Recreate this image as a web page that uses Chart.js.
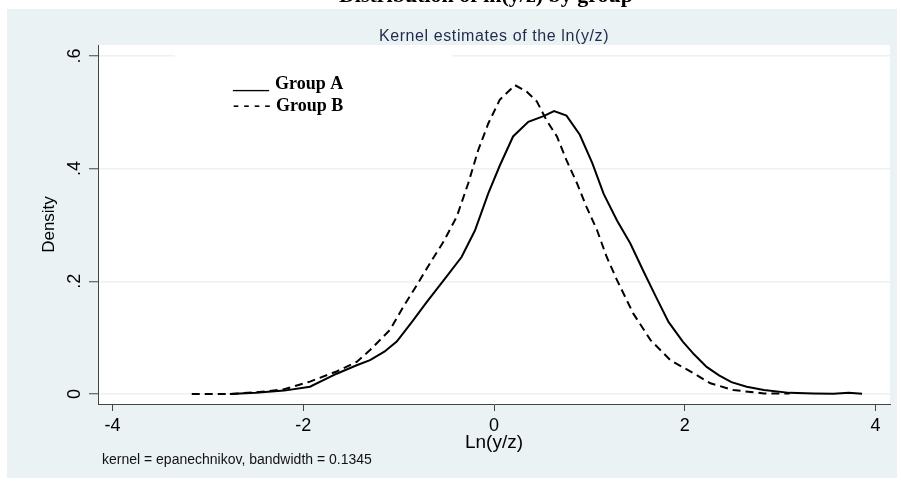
<!DOCTYPE html>
<html>
<head>
<meta charset="utf-8">
<script src="https://cdn.jsdelivr.net/npm/chart.js@4.4.1/dist/chart.umd.min.js"></script>
<style>
  html, body { margin: 0; padding: 0; background: #fff; }
</style>
</head>
<body>
<canvas id="kdens" width="901" height="482"></canvas>
<script>
// axis ticks
const xTicks = [-4, -2, 0, 2, 4];
const yTicks = [0, 0.2, 0.4, 0.6];
const yTickLabels = ["0", ".2", ".4", ".6"];

// Group A (solid line) - kernel density
const groupAx = [-2.77, -2.50, -2.20, -1.93, -1.65, -1.44, -1.30, -1.15, -1.02, -0.86, -0.71, -0.50, -0.34, -0.20, -0.06,
  0.06, 0.20, 0.36, 0.52, 0.63, 0.76, 0.90, 1.03, 1.15, 1.29, 1.43, 1.57, 1.70, 1.83, 1.98, 2.10, 2.23, 2.36, 2.49,
  2.65, 2.83, 3.10, 3.35, 3.56, 3.72, 3.86];
const groupAy = [0.000, 0.002, 0.006, 0.013, 0.036, 0.051, 0.060, 0.075, 0.093, 0.128, 0.162, 0.208, 0.243, 0.290, 0.356,
  0.405, 0.457, 0.483, 0.493, 0.502, 0.494, 0.460, 0.410, 0.355, 0.308, 0.267, 0.217, 0.172, 0.128, 0.093, 0.070, 0.048, 0.033, 0.021,
  0.013, 0.007, 0.002, 0.001, 0.0005, 0.002, 0.0005];

// Group B (dashed line)
const groupBx = [-3.17, -2.77, -2.50, -2.21, -1.93, -1.65, -1.44, -1.30, -1.09, -0.95, -0.81, -0.65, -0.53, -0.39, -0.27,
  -0.165, -0.06, 0.06, 0.22, 0.34, 0.45, 0.55, 0.66, 0.76, 0.87, 0.97, 1.08, 1.18, 1.29, 1.46, 1.64, 1.85, 2.09, 2.27,
  2.51, 2.83, 3.10];
const groupBy = [0.000, 0.000, 0.003, 0.008, 0.022, 0.040, 0.057, 0.078, 0.114, 0.155, 0.193, 0.238, 0.270, 0.315, 0.374,
  0.433, 0.480, 0.522, 0.548, 0.537, 0.519, 0.486, 0.457, 0.415, 0.374, 0.332, 0.291, 0.244, 0.202, 0.143, 0.096, 0.060, 0.037, 0.019,
  0.007, 0.001, 0.001];

const groupLabels = ["Group A", "Group B"];

const SANS = "'Liberation Sans', Arial, sans-serif";
const SERIF = "'Liberation Serif', 'Times New Roman', serif";
const bluish = "rgb(234,242,243)";

// sfondo stile Stata: cornice azzurrina, area del grafico bianca
const backgroundPlugin = {
  id: 'stataBackground',
  beforeDraw(chart) {
    const c = chart.ctx, a = chart.chartArea;
    c.save();
    c.fillStyle = '#fff';
    c.fillRect(0, 0, chart.width, chart.height);
    c.fillStyle = bluish;
    c.fillRect(7, 9, 890, 469);
    c.fillStyle = '#fff';
    c.fillRect(a.left, a.top, a.right - a.left, a.bottom - a.top);
    c.restore();
  },
  beforeDatasetsDraw(chart) {
    // riquadro bianco della legenda (copre la griglia a .6)
    const c = chart.ctx;
    c.save();
    c.fillStyle = '#fff';
    c.fillRect(175, 49, 277, 70);
    c.restore();
  }
};

// testi: titolo tagliato, sottotitolo, legenda, nota
const textPlugin = {
  id: 'stataTexts',
  afterDraw(chart) {
    const c = chart.ctx, a = chart.chartArea;
    const mid = (a.left + a.right) / 2;
    c.save();
    c.fillStyle = '#000';
    c.textAlign = 'center';
    c.textBaseline = 'alphabetic';
    c.font = "bold 22px " + SERIF;
    c.fillText("Distribution of ln(y/z) by group", mid - 8, 2);

    c.fillStyle = '#1f2b4d';
    c.font = "16px " + SANS;
    c.letterSpacing = '0.6px';
    c.fillText("Kernel estimates of the ln(y/z)", mid, 41);
    c.letterSpacing = '0px';

    c.fillStyle = '#000';
    c.textAlign = 'left';
    c.font = "bold 18px " + SERIF;
    c.fillText("____", 233, 89);
    c.fillText(groupLabels[0], 275, 89);
    c.fillText("- - - -", 233, 111);
    c.fillText(groupLabels[1], 276, 111);

    c.font = "14px " + SANS;
    c.fillStyle = '#111';
    c.fillText("kernel = epanechnikov, bandwidth = 0.1345", 102, 464);
    c.restore();
  }
};

const ctx = document.getElementById('kdens').getContext('2d');
const chart = new Chart(ctx, {
  type: 'line',
  data: {
    datasets: [
      {
        label: groupLabels[0],
        data: groupAx.map((x, i) => ({ x: x, y: groupAy[i] })),
        borderColor: '#000',
        borderWidth: 2,
        pointRadius: 0,
        fill: false,
        tension: 0
      },
      {
        label: groupLabels[1],
        data: groupBx.map((x, i) => ({ x: x, y: groupBy[i] })),
        borderColor: '#000',
        borderWidth: 2,
        borderDash: [8, 5],
        pointRadius: 0,
        fill: false,
        tension: 0
      }
    ]
  },
  options: {
    responsive: false,
    animation: false,
    devicePixelRatio: 1,
    layout: { padding: { left: 0, right: 11, top: 45, bottom: 0 } },
    plugins: {
      legend: { display: false },
      tooltip: { enabled: false }
    },
    scales: {
      x: {
        type: 'linear',
        min: -4.153,
        max: 4.153,
        afterBuildTicks: s => { s.ticks = xTicks.map(v => ({ value: v })); },
        afterFit: s => { s.height = 78; },
        ticks: {
          autoSkip: false,
          maxRotation: 0,
          padding: 4,
          color: '#000',
          font: { family: SANS, size: 18 },
          callback: v => String(v)
        },
        grid: { drawOnChartArea: false, tickLength: 7, tickColor: '#444', tickWidth: 1 },
        border: { color: '#444', width: 1 },
        title: {
          display: true,
          text: 'Ln(y/z)',
          color: '#000',
          font: { family: SANS, size: 19 },
          padding: { top: 0, bottom: 28 }
        }
      },
      y: {
        type: 'linear',
        min: -0.01775,
        max: 0.6193,
        afterBuildTicks: s => { s.ticks = yTicks.map(v => ({ value: v })); },
        afterFit: s => { s.width = 98; },
        ticks: {
          minRotation: 90,
          maxRotation: 90,
          crossAlign: 'center',
          padding: 6,
          color: '#000',
          font: { family: SANS, size: 18 },
          callback: v => yTickLabels[yTicks.indexOf(Math.round(v * 10) / 10)]
        },
        grid: { color: bluish, lineWidth: 1.5, tickLength: 9, tickColor: '#444', tickWidth: 1 },
        border: { color: '#444', width: 1 },
        title: {
          display: true,
          text: 'Density',
          color: '#000',
          font: { family: SANS, size: 17 },
          padding: { top: 39, bottom: 0 }
        }
      }
    }
  },
  plugins: [backgroundPlugin, textPlugin]
});
</script>
</body>
</html>
